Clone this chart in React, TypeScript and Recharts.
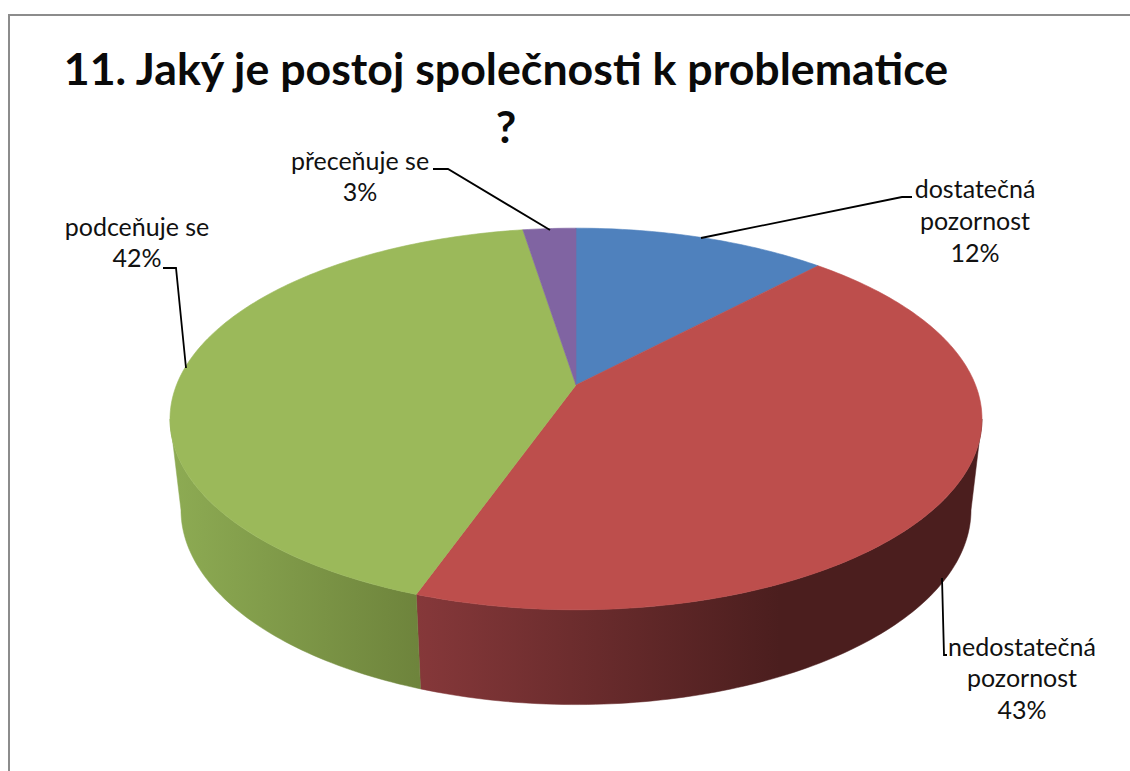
import { PieChart, Pie, Cell } from "recharts";

const CATEGORIES = ["dostatečná\npozornost", "nedostatečná\npozornost", "podceňuje se", "přeceňuje se"];
const SHARES = [12, 43.4, 42.1, 2.5];
const COLORS = ["#4f81bd", "#bd4e4c", "#9bb95a", "#8064a2"];
const TITLE_LINES = ["11. Jaký je postoj společnosti k problematice", "?"];

const data = CATEGORIES.map((name, i) => ({ name, value: SHARES[i] }));

const FONT = "Lato, Carlito, sans-serif";
const CX = 576;
const CY = 385;
const OUTER = 399.5;

// perspective of the tilted disc
const K = 0.178;
const Y_RATIO = 0.4625;
const TOP_MID_Y = 419;
const BOTTOM_MID_Y = 510;
const BOTTOM_X_SCALE = 0.973;
const BOTTOM_Y_SCALE = 1.02;
const FRONT_FROM = (Math.acos(-K) * 180) / Math.PI;
const FRONT_TO = 360 - FRONT_FROM;

function rim(cx: number, cy: number, r: number, deg: number) {
  const t = (deg * Math.PI) / 180;
  const w = 1 + K * Math.cos(t);
  return {
    x: cx + (r * Math.sin(t)) / w,
    y: cy - (r * Y_RATIO * Math.cos(t)) / w,
  };
}

function rimBottom(cx: number, cy: number, r: number, deg: number) {
  const p = rim(cx, cy, r, deg);
  return {
    x: cx + (p.x - cx) * BOTTOM_X_SCALE,
    y: BOTTOM_MID_Y + (p.y - TOP_MID_Y) * BOTTOM_Y_SCALE,
  };
}

function arcPoints(from: number, to: number, fn: (deg: number) => { x: number; y: number }) {
  const n = Math.max(2, Math.ceil(Math.abs(to - from)));
  const out: string[] = [];
  for (let i = 0; i <= n; i++) {
    const p = fn(from + ((to - from) * i) / n);
    out.push(`${p.x.toFixed(2)},${p.y.toFixed(2)}`);
  }
  return out;
}

function Slice3D(props: any) {
  const { cx, cy, outerRadius, startAngle, endAngle, index } = props;
  const a1 = 90 - startAngle;
  const a2 = 90 - endAngle;
  const color = COLORS[index];
  const top = [`${cx},${cy}`, ...arcPoints(a1, a2, (d) => rim(cx, cy, outerRadius, d))];

  const w1 = Math.max(a1, FRONT_FROM);
  const w2 = Math.min(a2, FRONT_TO);
  let wall = null;
  if (w2 > w1) {
    const upper = arcPoints(w1, w2, (d) => rim(cx, cy, outerRadius, d));
    const lower = arcPoints(w2, w1, (d) => rimBottom(cx, cy, outerRadius, d));
    wall = <polygon points={[...upper, ...lower].join(" ")} fill={`url(#wall${index})`} stroke={`url(#wall${index})`} strokeWidth={0.5} />;
  }
  return (
    <g>
      {wall}
      <polygon points={top.join(" ")} fill={color} stroke={color} strokeWidth={0.6} />
    </g>
  );
}

const LABEL_LAYOUT = [
  { x: 975, ys: [198, 230, 262], line: "701,238 902,197 912,197" },
  { x: 1022, ys: [656, 687, 719], line: "942,578 944,655 947,655" },
  { x: 137, ys: [236, 267], line: "186,368 176,268 163,268" },
  { x: 360, ys: [170, 201], line: "550,230 448,169 433,169" },
];

function renderLabel(props: any) {
  const { index } = props;
  const layout = LABEL_LAYOUT[index];
  const lines = [...CATEGORIES[index].split("\n"), `${Math.round(SHARES[index])}%`];
  return (
    <g key={index}>
      <polyline points={layout.line} fill="none" stroke="#000" strokeWidth={1.8} />
      {lines.map((t, i) => (
        <text key={i} x={layout.x} y={layout.ys[i]} textAnchor="middle" fontFamily={FONT} fontSize={25} fill="#111">
          {t}
        </text>
      ))}
    </g>
  );
}

export default function App() {
  return (
    <div style={{ position: "absolute", left: 0, top: 0, width: 1130, height: 771, background: "#fff", overflow: "hidden" }}>
      <div style={{ position: "absolute", left: 8, top: 14, width: 1130, height: 771, borderLeft: "2px solid #8c8c8c", borderTop: "2px solid #8c8c8c" }} />
      <div style={{ position: "absolute", left: 0, top: 0 }}>
        <PieChart width={1130} height={771} margin={{ top: 0, right: 0, bottom: 0, left: 0 }}>
          <defs>
            <linearGradient id="wall1" gradientUnits="userSpaceOnUse" x1={415} y1={0} x2={780} y2={0}>
              <stop offset="0" stopColor="#86383a" />
              <stop offset="1" stopColor="#4b1e1e" />
            </linearGradient>
            <linearGradient id="wall2" gradientUnits="userSpaceOnUse" x1={172} y1={0} x2={418} y2={0}>
              <stop offset="0" stopColor="#8dab53" />
              <stop offset="1" stopColor="#6e843c" />
            </linearGradient>
          </defs>
          <text textAnchor="middle" fontFamily={FONT} fontSize={44.7} fontWeight={700} fill="#0a0a0a">
            <tspan x={506} y={85}>{TITLE_LINES[0]}</tspan>
            <tspan x={506} y={143}>{TITLE_LINES[1]}</tspan>
          </text>
          <Pie
            data={data}
            dataKey="value"
            nameKey="name"
            cx={CX}
            cy={CY}
            innerRadius={0}
            outerRadius={OUTER}
            startAngle={90}
            endAngle={-270}
            stroke="none"
            shape={Slice3D}
            label={renderLabel}
            labelLine={false}
            isAnimationActive={false}
          >
            {data.map((d, i) => (
              <Cell key={d.name} fill={COLORS[i]} />
            ))}
          </Pie>
        </PieChart>
      </div>
    </div>
  );
}
